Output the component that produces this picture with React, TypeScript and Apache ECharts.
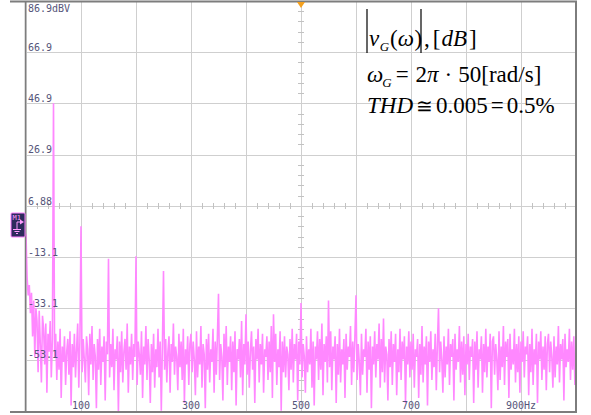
import React, { useEffect, useRef } from "react";
import * as echarts from "echarts";

// ---- data ----
const binHz = 2; // spectrum resolution (Hz per point)
const yTickLabels = ["-73.1", "-53.1", "-33.1", "-13.1", "6.88", "26.9", "46.9", "66.9", "86.9dBV"];
const xTickLabels: Record<number, string> = { 100: "100", 300: "300", 500: "500", 700: "700", 900: "900Hz" };

// noise floor, dBV, one value every 2 Hz (0 .. 248 Hz)
const noiseA = [
  -4, -21, -28, -24, -35, -27, -44, -30, -52, -33, -38, -58, -34, -47, -62, -36, -41, -55, -39, -66, -43, -50, -38, -60, -45,
  -40, -52, -43, -61, -46, -57, -41, -68, -48, -54, -44, -63, -50, -45, -59, -42, -71, -47, -56, -43, -60, -49, -39, -64, -46,
  -42, -58, -45, -53, -62, -44, -49, -67, -43, -55, -40, -61, -47, -52, -72, -45, -57, -41, -63, -48, -54, -44, -69, -46, -51,
  -43, -60, -47, -56, -41, -65, -49, -53, -44, -74, -46, -58, -42, -62, -50, -45, -57, -39, -66, -48, -55, -43, -61, -47, -52,
  -44, -63, -46, -51, -59, -42, -68, -48, -55, -40, -61, -45, -53, -70, -47, -58, -43, -64, -49, -56, -41, -60, -46, -73, -48,
];
// 250 .. 498 Hz
const noiseB = [
  -42, -57, -45, -62, -50, -44, -66, -47, -54, -39, -59, -48, -52, -65, -43, -56, -46, -61, -41, -70, -49, -55, -44, -63, -47,
  -43, -58, -46, -53, -67, -42, -60, -48, -55, -40, -64, -47, -51, -72, -45, -57, -43, -62, -49, -54, -41, -66, -46, -59, -44,
  -45, -61, -47, -52, -69, -43, -56, -40, -63, -48, -54, -44, -65, -46, -58, -42, -71, -49, -53, -45, -60, -38, -67, -47, -55,
  -44, -59, -46, -64, -50, -42, -57, -48, -70, -45, -53, -41, -62, -47, -55, -43, -66, -49, -52, -44, -61, -46, -58, -40, -68,
  -47, -54, -43, -63, -49, -56, -42, -73, -46, -58, -44, -60, -48, -51, -65, -45, -57, -41, -62, -47, -53, -43, -69, -46, -55,
];
// 500 .. 748 Hz
const noiseC = [
  -43, -60, -47, -52, -66, -44, -58, -49, -55, -41, -64, -46, -71, -48, -53, -42, -61, -45, -57, -39, -67, -47, -54, -44, -62,
  -46, -56, -42, -65, -48, -53, -44, -70, -47, -59, -41, -62, -49, -55, -45, -68, -43, -57, -48, -52, -40, -63, -46, -58, -44,
  -45, -61, -47, -54, -67, -43, -59, -49, -52, -41, -66, -46, -57, -44, -72, -48, -55, -42, -60, -47, -53, -39, -64, -45, -58,
  -44, -62, -48, -51, -69, -45, -56, -42, -63, -47, -54, -43, -67, -49, -58, -41, -61, -46, -53, -44, -70, -48, -55, -42, -60,
  -46, -57, -43, -64, -49, -52, -45, -68, -47, -59, -40, -62, -48, -55, -44, -71, -46, -54, -42, -61, -49, -56, -43, -65, -47,
];
// 750 .. 1000 Hz
const noiseD = [
  -42, -58, -46, -53, -66, -44, -60, -48, -55, -41, -63, -47, -52, -45, -69, -43, -57, -49, -54, -40, -62, -46, -59, -44, -67,
  -47, -55, -43, -61, -48, -52, -45, -70, -46, -57, -42, -64, -49, -53, -44, -66, -47, -58, -41, -60, -48, -54, -43, -72, -46,
  -44, -59, -47, -53, -65, -42, -61, -48, -56, -40, -63, -46, -52, -45, -68, -43, -57, -49, -55, -41, -62, -47, -58, -44, -66,
  -46, -54, -42, -60, -48, -51, -44, -67, -47, -58, -41, -63, -49, -55, -43, -70, -46, -53, -42, -61, -48, -57, -44, -65, -47,
  -43, -58, -46, -52, -64, -44, -60, -48, -55, -40, -62, -47, -53, -45, -69, -43, -56, -49, -54, -41, -61, -46, -57, -44, -63, -48,
];

// fundamental and harmonic lines
const harmonicHz = [50, 100, 150, 200, 250, 350, 400, 450, 500, 550, 600, 650, 750];
const harmonicDb = [47, -1, -13.7, -12.7, -18.5, -27.4, -35.4, -35.4, -31, -30, -28, -37, -33];

const yMin = -73.12;
const yMax = 86.88;

const serif = "Liberation Serif, Times New Roman, serif";
const mono = "DejaVu Sans Mono, monospace";

function buildData() {
  const noise = [...noiseA, ...noiseB, ...noiseC, ...noiseD];
  const values = noise.slice();
  harmonicHz.forEach((hz, k) => {
    values[Math.round(hz / binHz)] = harmonicDb[k];
  });
  return values.map((v, i) => [i * binHz, v]);
}

const fN = `23px ${serif}`;
const fI = `italic 23px ${serif}`;
const fSub = `italic 13px ${serif}`;
const fRel = `20px ${serif}`;

// run of pieces placed one after another: [text, font, gapBefore, dy]
function run(x0: number, yMid: number, items: [string, string, number, number?][]) {
  const ctx = document.createElement("canvas").getContext("2d")!;
  let x = x0;
  const out: any[] = [];
  for (const [text, font, gap, dy] of items) {
    x += gap;
    out.push({ type: "text", z: 10, x, y: yMid + (dy ?? 0), style: { text, font, fill: "#000", verticalAlign: "middle" } });
    ctx.font = font;
    x += ctx.measureText(text).width;
  }
  return out;
}

export default function App() {
  const ref = useRef<HTMLDivElement>(null);
  useEffect(() => {
    if (!ref.current) return;
    const chart = echarts.init(ref.current, undefined, { renderer: "svg" });
    const gridColor = "#cfcfcf";
    const minorTickAxisX = (inside: boolean) => ({
      type: "value", min: 0, max: 1000, interval: 100, position: "top", offset: -205,
      axisLine: { show: false, onZero: false },
      axisTick: { show: false, inside },
      axisLabel: { show: false },
      splitLine: { show: false },
      minorTick: { show: true, splitNumber: 5, length: 3, lineStyle: { color: "#c2c2c2", width: 1 } },
    });
    const minorTickAxisY = (inside: boolean) => ({
      type: "value", min: yMin, max: yMax, interval: 20, position: "left", offset: -275,
      axisLine: { show: false, onZero: false },
      axisTick: { show: false, inside },
      axisLabel: { show: false },
      splitLine: { show: false },
      minorTick: { show: true, splitNumber: 5, length: 3, lineStyle: { color: "#c2c2c2", width: 1 } },
    });
    const L1 = 38, L2 = 74, L3 = 105;
    const option: any = {
      animation: false,
      backgroundColor: "#ffffff",
      grid: { left: 26, top: 1, width: 550, height: 410, show: false },
      xAxis: [
        {
          type: "value", min: 0, max: 1000, interval: 100, position: "bottom",
          axisLine: { show: false, onZero: false }, axisTick: { show: false }, axisLabel: { show: false },
          splitLine: { show: true, lineStyle: { color: gridColor, width: 1 } },
        },
        minorTickAxisX(false),
        minorTickAxisX(true),
        {
          type: "value", min: 0, max: 1000, interval: 100, position: "bottom", z: 5,
          axisLine: { show: false, onZero: false }, axisTick: { show: false }, splitLine: { show: false },
          axisLabel: {
            show: true, inside: true, margin: 1, fontFamily: mono, fontSize: 10, color: "#55557a",
            formatter: (v: number) => xTickLabels[Math.round(v)] ?? "",
          },
        },
      ],
      yAxis: [
        {
          type: "value", min: yMin, max: yMax, interval: 20, position: "left",
          axisLine: { show: false, onZero: false }, axisTick: { show: false }, axisLabel: { show: false },
          splitLine: { show: true, lineStyle: { color: gridColor, width: 1 } },
        },
        minorTickAxisY(false),
        minorTickAxisY(true),
        {
          type: "value", min: yMin, max: yMax, interval: 20, position: "left", z: 5,
          axisLine: { show: false, onZero: false }, axisTick: { show: false }, splitLine: { show: false },
          axisLabel: {
            show: true, inside: true, margin: 2, fontFamily: mono, fontSize: 10, color: "#55557a",
            verticalAlign: "bottom", align: "left", showMinLabel: false, showMaxLabel: false,
            formatter: (v: number) => yTickLabels[Math.round((v - yMin) / 20)] ?? "",
          },
        },
      ],
      series: [
        {
          type: "line", xAxisIndex: 0, yAxisIndex: 0, data: buildData(),
          showSymbol: false, symbol: "none",
          lineStyle: { color: "#ff88ff", width: 1.6 },
          z: 2,
        },
      ],
      graphic: [
        // frame
        { type: "line", z: 10, shape: { x1: 10, y1: 1.5, x2: 577, y2: 1.5 }, style: { stroke: "#7d7d7d", lineWidth: 2 } },
        { type: "line", z: 10, shape: { x1: 10, y1: 412, x2: 577, y2: 412 }, style: { stroke: "#7d7d7d", lineWidth: 2 } },
        { type: "line", z: 10, shape: { x1: 25.5, y1: 1, x2: 25.5, y2: 412 }, style: { stroke: "#7d7d7d", lineWidth: 1.5 } },
        { type: "line", z: 10, shape: { x1: 576, y1: 1, x2: 576, y2: 412 }, style: { stroke: "#7d7d7d", lineWidth: 2 } },
        // top label
        { type: "text", z: 10, x: 28, y: 3, style: { text: "86.9dBV", font: `10px ${mono}`, fill: "#55557a", verticalAlign: "top" } },
        // trigger marker
        { type: "polygon", z: 10, shape: { points: [[297, 2], [305, 2], [301, 8]] }, style: { fill: "#f5a11f" } },
        // M1 marker
        { type: "rect", z: 10, shape: { x: 11, y: 213, width: 14, height: 24, r: 1 }, style: { fill: "#2d2b5c", stroke: "#ff80ff", lineWidth: 1 } },
        { type: "text", z: 11, x: 12.5, y: 214.5, style: { text: "M1", font: `7px ${mono}`, fill: "#ff9cff", verticalAlign: "top" } },
        { type: "polyline", z: 11, shape: { points: [[17, 229], [17, 222], [22, 222]] }, style: { stroke: "#ff9cff", lineWidth: 1, fill: "none" } },
        { type: "polygon", z: 11, shape: { points: [[20, 219.5], [24, 222], [20, 224.5]] }, style: { fill: "#ff9cff" } },
        { type: "line", z: 11, shape: { x1: 13, y1: 229.5, x2: 21, y2: 229.5 }, style: { stroke: "#ff9cff", lineWidth: 1 } },
        { type: "line", z: 11, shape: { x1: 14.5, y1: 231.5, x2: 19.5, y2: 231.5 }, style: { stroke: "#ff9cff", lineWidth: 1 } },
        { type: "line", z: 11, shape: { x1: 16, y1: 233.5, x2: 18, y2: 233.5 }, style: { stroke: "#ff9cff", lineWidth: 1 } },
        // annotation line 1: |v_G(ω)|,[dB]
        { type: "line", z: 10, shape: { x1: 367, y1: 9, x2: 367, y2: 53 }, style: { stroke: "#000", lineWidth: 1.2 } },
        { type: "line", z: 10, shape: { x1: 421, y1: 9, x2: 421, y2: 53 }, style: { stroke: "#000", lineWidth: 1.2 } },
        ...run(369, L1, [["v", fI, 0], ["G", fSub, 0.5, 8.5], ["(", fN, 1], ["ω", fI, 0], [")", fN, 0.5]]),
        ...run(424, L1, [[",", fN, 0], ["[", fN, 3], ["dB", fI, 1], ["]", fN, 2]]),
        // annotation line 2: ω_G = 2π·50[rad/s]
        ...run(367, L2, [["ω", fI, 0], ["G", fSub, -1, 8.5], ["=", fN, 4], ["2", fN, 7], ["π", fI, 0], ["·", fN, 6], ["50[rad/s]", fN, 6]]),
        // annotation line 3: THD ≅ 0.005 = 0.5%
        ...run(367, L3, [["THD", fI, 0], ["≅", fRel, 3, 1], ["0.005", fN, 3], ["=", fN, 3], ["0.5%", fN, 3]]),
      ],
    };
    chart.setOption(option);
    return () => chart.dispose();
  }, []);
  return <div ref={ref} style={{ position: "fixed", left: 0, top: 0, width: 591, height: 415 }} />;
}
